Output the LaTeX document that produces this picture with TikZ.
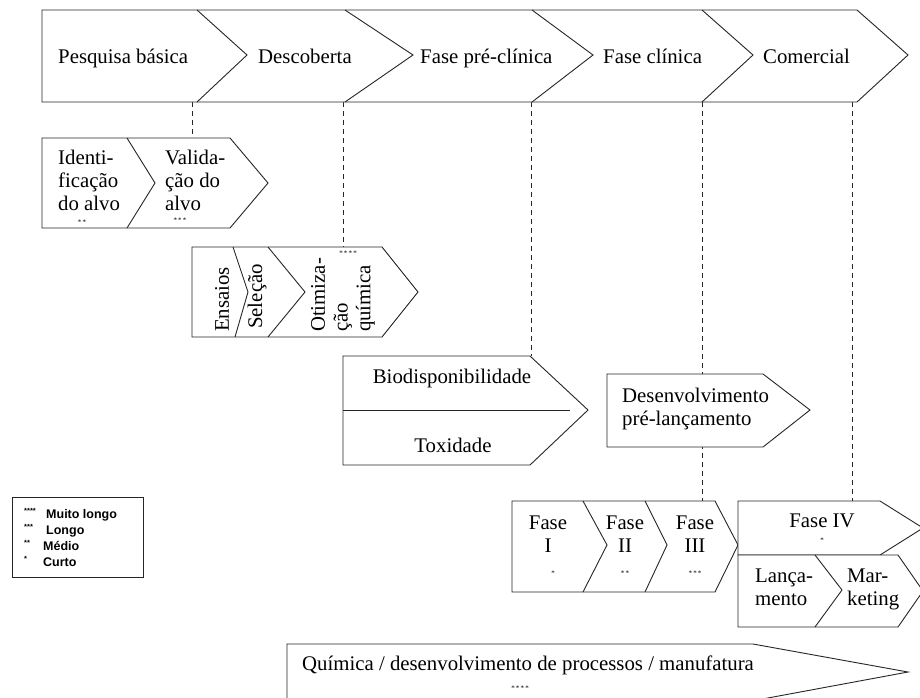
\documentclass[tikz,border=0pt]{standalone}
\usepackage{fontspec}
\setmainfont{Liberation Serif}
\newfontfamily\legendfont{Liberation Sans}
\tikzset{
  box/.style={draw=black!85, line width=0.9pt, fill=white, line join=miter},
  sep/.style={draw=black!85, line width=0.9pt, line join=miter},
  guide/.style={draw=black!85, line width=0.8pt, dash pattern=on 5pt off 4pt},
  lbl/.style={font=\fontsize{20.8}{22.8}\selectfont, inner sep=0pt},
  rate/.style={font=\fontsize{7}{7}\selectfont, inner sep=0pt},
  keytxt/.style={font=\legendfont\bfseries\fontsize{12.5}{12.5}\selectfont, inner sep=0pt, anchor=base west},
  keystar/.style={font=\legendfont\bfseries\fontsize{7.5}{7.5}\selectfont, inner sep=0pt, anchor=base west},
}
\begin{document}
\begin{tikzpicture}[x=1pt,y=-1pt]
\clip (0,0) rectangle (920,697);
\fill[white] (0,0) rectangle (920,697);

% ---- dashed guides from the stage bar down to the activities
\coordinate (s1) at (192,102);  \coordinate (t1) at (192,138);
\coordinate (s2) at (343,102);  \coordinate (t2) at (343,247);
\coordinate (s3) at (531,102);  \coordinate (t3) at (531,356);
\coordinate (s4) at (702,102);  \coordinate (t4) at (702,501);
\coordinate (s5) at (852,102);  \coordinate (t5) at (852,501);
\draw[guide] (s1) -- (t1);
\draw[guide] (s2) -- (t2);
\draw[guide] (s3) -- (t3);
\draw[guide] (s4) -- (t4);
\draw[guide] (s5) -- (t5);

% ---- stage bar
\draw[box] (42,10) -- (857,10) -- (908,55) -- (857,102) -- (42,102) -- cycle;
\draw[sep] (197,10) -- (247,55) -- (197,102);
\draw[sep] (345,10) -- (413,55) -- (345,102);
\draw[sep] (532,10) -- (593,55) -- (532,102);
\draw[sep] (702,10) -- (753,55) -- (702,102);
\node[lbl, anchor=base west] (pb)  at (58,63)  {Pesquisa básica};
\node[lbl, anchor=base west] (dsc) at (258,63) {Descoberta};
\node[lbl, anchor=base west] (fpc) at (420,63) {Fase pré-clínica};
\node[lbl, anchor=base west] (fcl) at (603,63) {Fase clínica};
\node[lbl, anchor=base west] (com) at (763,63) {Comercial};

% ---- target identification / validation
\draw[box] (42,138) -- (230,138) -- (268,183) -- (230,228) -- (42,228) -- cycle;
\draw[sep] (127,138) -- (155,183) -- (127,228);
\node[lbl, anchor=base west, align=left] (idt) at (58,210) {Identi-\\ficação\\do alvo};
\node[lbl, anchor=base west, align=left] (val) at (165,210) {Valida-\\ção do\\alvo};
\node[rate] (idt-r) at (82,222) {*\,*};
\node[rate] (val-r) at (180,220) {*\,*\,*};

% ---- assays / selection / chemical optimisation
\draw[box] (192,247) -- (382,247) -- (418,292) -- (382,337) -- (192,337) -- cycle;
\draw[sep] (233,247) -- (248,292) -- (235,337);
\draw[sep] (268,247) -- (305,292) -- (268,337);
\node[lbl, rotate=90, anchor=west] (ens) at (222,332) {Ensaios};
\node[lbl, rotate=90, anchor=west] (sel) at (257,329) {Seleção};
\node[lbl, rotate=90, anchor=west, align=left] (oti) at (343,332) {Otimiza-\\ção\\química};
\node[rate] (oti-r) at (348,253) {*\,*\,*\,*};

% ---- bioavailability / toxicity
\draw[box] (343,356) -- (530,356) -- (588,410) -- (530,465) -- (343,465) -- cycle;
\draw[sep] (343,410) -- (570,410);
\node[lbl] (bio) at (452,378) {Biodisponibilidade};
\node[lbl] (tox) at (453,445) {Toxidade};

% ---- pre-launch development
\draw[box] (607,374) -- (763,374) -- (810,410) -- (763,447) -- (607,447) -- cycle;
\node[lbl, anchor=base west, align=left] (dev) at (622,425) {Desenvolvimento\\pré-lançamento};

% ---- clinical phases
\draw[box] (512,501) -- (715,501) -- (738,545) -- (715,592) -- (512,592) -- cycle;
\draw[sep] (583,501) -- (607,545) -- (583,592);
\draw[sep] (645,501) -- (667,545) -- (645,592);
\node[lbl, anchor=base, align=center] (f1) at (548,552) {Fase\\I};
\node[lbl, anchor=base, align=center] (f2) at (625,552) {Fase\\II};
\node[lbl, anchor=base, align=center] (f3) at (695,552) {Fase\\III};
\node[rate] (f1-r) at (553,573) {*};
\node[rate] (f2-r) at (625,573) {*\,*};
\node[rate] (f3-r) at (695,573) {*\,*\,*};

% ---- phase IV, launch and marketing
\draw[box] (738,501) -- (880,501) -- (923,528) -- (880,555) -- (738,555) -- cycle;
\node[lbl, anchor=base] (f4) at (822,527) {Fase IV};
\node[rate] (f4-r) at (822,540) {*};
\draw[box] (738,555) -- (898,555) -- (923,591) -- (898,627) -- (738,627) -- cycle;
\draw[sep] (815,555) -- (842,590) -- (815,627);
\node[lbl, anchor=base west, align=left] (lan) at (755,605) {Lança-\\mento};
\node[lbl, anchor=base west, align=left] (mkt) at (847,605) {Mar-\\keting};

% ---- chemistry / process development / manufacturing
\draw[box] (287,644) -- (753,644) -- (908,672) -- (757,700) -- (287,700) -- cycle;
\node[lbl, anchor=base west] (man) at (302,670) {Química / desenvolvimento de processos / manufatura};
\node[rate] (man-r) at (520,688) {*\,*\,*\,*};

% ---- legend
\draw[black!85, line width=0.8pt] (12,497) rectangle (143,577);
\node[keystar] (k4s) at (24,513) {****};
\node[keytxt]  (k4)  at (46,518) {Muito longo};
\node[keystar] (k3s) at (24,529) {***};
\node[keytxt]  (k3)  at (46,534) {Longo};
\node[keystar] (k2s) at (24,545) {**};
\node[keytxt]  (k2)  at (43,550) {Médio};
\node[keystar] (k1s) at (24,561) {*};
\node[keytxt]  (k1)  at (43,566) {Curto};
\end{tikzpicture}
\end{document}
